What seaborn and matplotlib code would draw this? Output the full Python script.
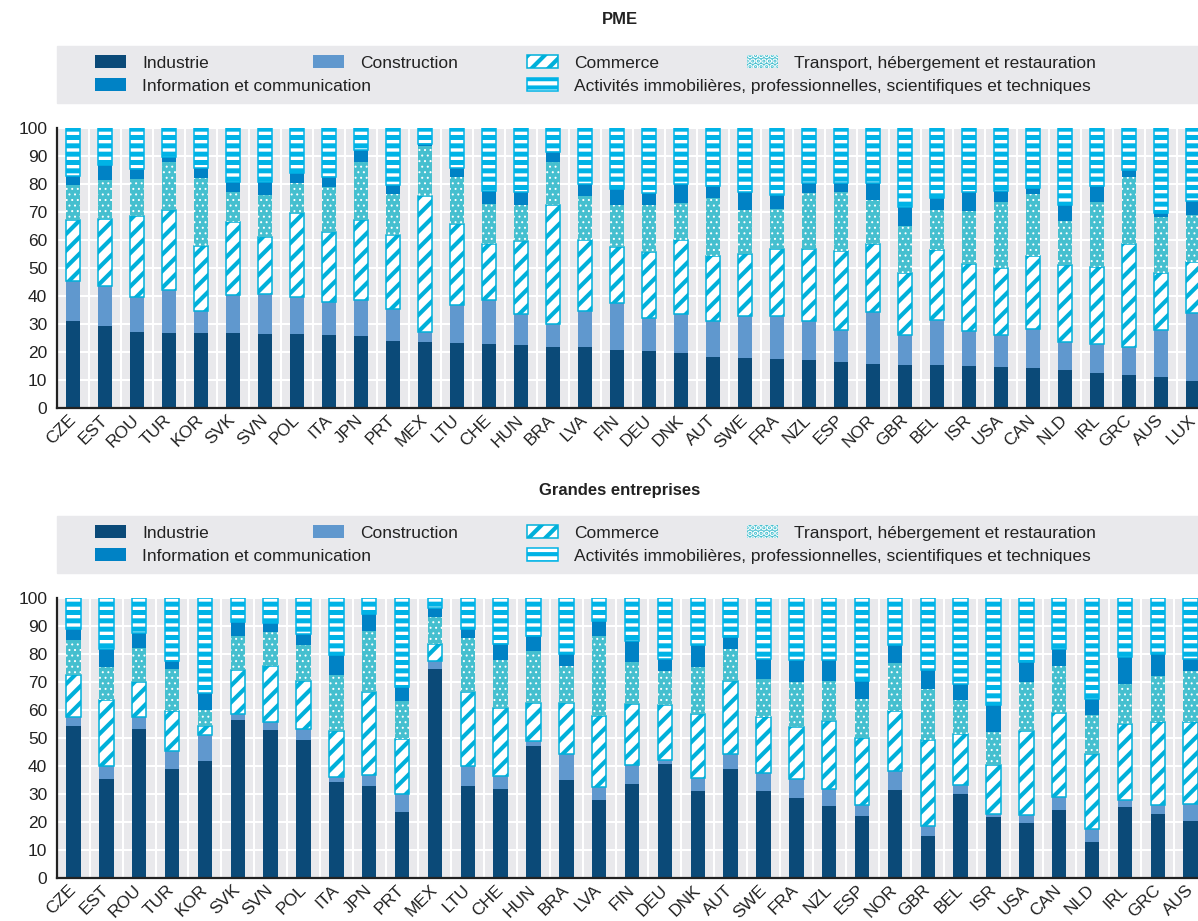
import numpy as np
import matplotlib
matplotlib.use("Agg")
import matplotlib.pyplot as plt
from matplotlib.patches import Patch, Rectangle
import seaborn as sns

# Pays, meme ordre dans les deux panneaux (LUX hors cadre en bas)
pays = ["CZE", "EST", "ROU", "TUR", "KOR", "SVK", "SVN", "POL", "ITA", "JPN", "PRT", "MEX",
        "LTU", "CHE", "HUN", "BRA", "LVA", "FIN", "DEU", "DNK", "AUT", "SWE", "FRA", "NZL",
        "ESP", "NOR", "GBR", "BEL", "ISR", "USA", "CAN", "NLD", "IRL", "GRC", "AUS", "LUX"]
pays_ge = pays[:35]

secteurs = ["Industrie", "Construction", "Commerce", "Transport, hébergement et restauration",
            "Information et communication",
            "Activités immobilières, professionnelles, scientifiques et techniques"]

# PME : part de chaque secteur (%)
pme_industrie = [31.0, 29.4, 27.0, 26.9, 26.9, 26.8, 26.5, 26.5, 26.0, 25.6, 23.8, 23.5, 23.3, 23.0, 22.6, 21.7, 21.7, 20.8,
                 20.2, 19.5, 18.1, 17.9, 17.5, 17.3, 16.4, 15.8, 15.5, 15.2, 15.1, 14.5, 14.3, 13.6, 12.4, 11.9, 11.1, 9.5]
pme_construction = [14.2, 14.1, 12.5, 15.1, 7.6, 13.7, 14.3, 13.0, 11.9, 12.9, 11.7, 3.5, 13.4, 15.7, 11.0, 8.4, 12.8, 16.7,
                    11.9, 14.1, 13.1, 15.1, 15.2, 13.7, 11.3, 18.4, 10.7, 16.1, 12.3, 11.5, 13.9, 9.9, 10.5, 9.9, 16.6, 24.4]
pme_commerce = [22.1, 24.1, 29.0, 28.6, 23.5, 25.9, 20.2, 30.0, 25.1, 28.8, 26.2, 48.6, 29.1, 19.9, 25.9, 42.5, 25.6, 19.9,
                23.6, 26.5, 23.0, 22.0, 24.1, 25.9, 28.3, 24.4, 21.9, 25.2, 24.1, 24.0, 26.0, 27.5, 27.5, 36.9, 20.5, 18.2]
pme_transport = [12.2, 13.9, 13.3, 17.4, 24.0, 10.7, 15.0, 11.0, 15.8, 20.7, 14.8, 17.9, 16.6, 14.3, 12.9, 15.4, 15.5, 15.2,
                 16.7, 13.1, 20.8, 15.6, 14.4, 20.0, 21.0, 15.6, 16.8, 14.1, 18.7, 23.6, 22.2, 15.9, 23.1, 23.7, 20.0, 16.9]
pme_info = [3.5, 5.2, 3.6, 1.6, 3.7, 3.5, 4.6, 3.5, 3.6, 4.0, 3.3, 0.8, 3.3, 4.7, 4.7, 3.4, 4.4, 5.7,
            4.4, 6.8, 4.2, 6.5, 4.8, 3.6, 3.4, 6.2, 6.8, 4.4, 6.9, 3.8, 2.2, 5.5, 5.7, 2.5, 1.4, 4.8]
pme_activites = [17.0, 13.3, 14.6, 10.4, 14.3, 19.4, 19.4, 16.0, 17.6, 8.0, 20.2, 5.7, 14.3, 22.4, 22.9, 8.6, 20.0, 21.7,
                 23.2, 20.0, 20.8, 22.9, 24.0, 19.5, 19.6, 19.6, 28.3, 25.0, 22.9, 22.6, 21.4, 27.6, 20.8, 15.1, 30.4, 26.2]

# Grandes entreprises (%)
ge_industrie = [54.2, 35.5, 53.3, 38.9, 41.9, 56.3, 53.0, 49.4, 34.2, 33.0, 23.6, 74.8, 32.7, 31.8, 47.3, 35.1, 28.0, 33.7,
                40.8, 31.2, 38.9, 31.2, 28.6, 25.8, 22.0, 31.5, 15.1, 30.0, 21.8, 19.6, 24.2, 12.7, 25.2, 23.0, 20.2]
ge_construction = [3.2, 4.4, 4.2, 6.3, 9.1, 2.3, 2.6, 3.8, 1.9, 3.9, 6.4, 2.8, 7.2, 4.5, 1.5, 9.2, 4.4, 6.8,
                   1.5, 4.5, 5.5, 6.3, 6.8, 6.1, 4.2, 6.8, 3.4, 3.1, 1.2, 2.8, 4.6, 4.9, 2.5, 3.2, 6.2]
ge_commerce = [15.0, 23.8, 12.4, 14.3, 3.2, 15.8, 20.0, 17.3, 16.3, 29.5, 19.6, 6.1, 26.4, 24.4, 13.7, 18.2, 25.3, 21.6,
               19.4, 22.9, 25.8, 19.9, 18.4, 24.1, 23.8, 21.2, 30.7, 18.3, 17.2, 30.0, 30.1, 26.7, 27.3, 29.5, 29.3]
ge_transport = [12.7, 11.5, 12.2, 15.3, 5.9, 11.9, 12.1, 12.8, 20.2, 21.9, 13.7, 9.5, 19.4, 17.0, 18.5, 13.3, 28.6, 14.9,
                12.1, 16.6, 11.7, 13.7, 16.2, 14.5, 14.0, 17.3, 18.4, 12.3, 11.8, 17.5, 16.9, 14.0, 14.4, 16.3, 18.3]
ge_info = [3.9, 6.6, 5.4, 2.8, 6.0, 5.1, 3.3, 4.0, 6.9, 6.0, 4.8, 3.2, 3.3, 5.9, 5.3, 4.2, 5.4, 7.5,
           4.5, 7.9, 4.2, 7.2, 7.7, 7.5, 6.5, 6.5, 6.6, 5.7, 9.7, 7.2, 6.0, 5.6, 9.5, 8.0, 4.2]
ge_activites = [11.0, 18.2, 12.5, 22.4, 33.9, 8.6, 9.0, 12.7, 20.5, 5.7, 31.9, 3.6, 11.0, 16.4, 13.7, 20.0, 8.3, 15.5,
                21.7, 16.9, 13.9, 21.7, 22.3, 22.0, 29.5, 16.7, 25.8, 30.6, 38.3, 22.9, 18.2, 36.1, 21.1, 20.0, 21.8]

# Style
sns.set_theme(style="white")
plt.rcParams["font.family"] = ["Liberation Sans", "DejaVu Sans"]
plt.rcParams["hatch.linewidth"] = 3.0

IND, CONS, INFO, TRANS = "#0B4A78", "#6098CE", "#0082C5", "#45BFCF"
COMM, ACT, FOND = "#00B0DA", "#00B3E6", "#E9E9EC"

styles = [
    dict(color=IND, edgecolor=IND, linewidth=0),
    dict(color=CONS, edgecolor=CONS, linewidth=0),
    dict(color="white", edgecolor=COMM, linewidth=1.1, hatch="//"),
    dict(color=TRANS, edgecolor="white", linewidth=0, hatch="..."),
    dict(color=INFO, edgecolor=INFO, linewidth=0),
    dict(color="white", edgecolor=ACT, linewidth=1.1, hatch="--"),
]
hatch_lw = [3.0, 3.0, 3.0, 0.7, 3.0, 3.6]

W, H = 1198, 921
fig = plt.figure(figsize=(W / 100, H / 100), dpi=100)

panneaux = [
    ("PME", pays, [pme_industrie, pme_construction, pme_commerce, pme_transport, pme_info, pme_activites],
     [57 / W, (H - 408) / H, 1152 / W, 280 / H], 0),
    ("Grandes entreprises", pays_ge, [ge_industrie, ge_construction, ge_commerce, ge_transport, ge_info, ge_activites],
     [57 / W, (H - 878) / H, 1183 / W, 280 / H], 470),
]

# positions des entrees de legende (pixels : bord gauche du symbole, centre vertical)
places = [(95, 63), (313, 63), (527, 63), (747, 63), (95, 86), (527, 86)]

for titre, liste_pays, series, pos, dy in panneaux:
    ax = fig.add_axes(pos)
    ax.set_facecolor(FOND)
    bas = np.zeros(len(liste_pays))
    for vals, st, hlw in zip(series, styles, hatch_lw):
        with plt.rc_context({"hatch.linewidth": hlw}):
            sns.barplot(x=liste_pays, y=vals, order=liste_pays, width=0.44, errorbar=None,
                        saturation=1, ax=ax, bottom=bas.copy(), **st)
        for p in ax.containers[-1]:
            if hasattr(p, "set_hatch_linewidth"):
                p.set_hatch_linewidth(hlw)
        bas += np.array(vals)

    ax.set_xlim(-0.5, 35.5)
    ax.set_ylim(0, 100)
    ax.set_yticks(range(0, 101, 10))
    ax.set_xlabel("")
    ax.set_ylabel("")
    ax.set_xticks(range(len(liste_pays)))
    ax.set_xticklabels(liste_pays, rotation=45, ha="right", va="center", rotation_mode="anchor")
    ax.set_xticks(np.arange(0.5, 35.5, 1), minor=True)
    ax.set_axisbelow(True)
    ax.yaxis.grid(True, color="white", linewidth=1.5)
    ax.xaxis.grid(False, which="major")
    ax.xaxis.grid(True, which="minor", color="white", linewidth=1.5)
    ax.tick_params(axis="x", which="major", length=0, pad=7, labelsize=12.5, labelcolor="#222222")
    ax.tick_params(axis="x", which="minor", direction="in", length=4, width=1.2, color="#222222")
    ax.tick_params(axis="y", direction="in", length=4, width=1.2, pad=7, labelsize=12.5,
                   color="#222222", labelcolor="#222222")
    sns.despine(ax=ax)
    for s in ["left", "bottom"]:
        ax.spines[s].set_color("#222222")
        ax.spines[s].set_linewidth(1.6)

    # titre et bandeau de legende
    fig.text(620 / W, 1 - (20 + dy) / H, titre, ha="center", va="center",
             fontsize=12, fontweight="bold", color="#222222")
    fig.add_artist(Rectangle((57 / W, 1 - (103 + dy) / H), (W - 57) / W, 57 / H,
                             transform=fig.transFigure, color=FOND, zorder=0))
    for lab, st, hlw, (px, py) in zip(secteurs, styles, hatch_lw, places):
        with plt.rc_context({"hatch.linewidth": hlw}):
            h = Patch(facecolor=st["color"], edgecolor=st["edgecolor"], linewidth=st["linewidth"],
                      hatch=st.get("hatch"))
        if hasattr(h, "set_hatch_linewidth"):
            h.set_hatch_linewidth(hlw)
        fig.legend(handles=[h], labels=[lab], loc="center left",
                   bbox_to_anchor=(px / W, 1 - (py + dy) / H), frameon=False, fontsize=12.5,
                   handlelength=1.78, handleheight=0.8, handletextpad=0.92,
                   borderpad=0, borderaxespad=0, labelcolor="#222222")

fig.savefig("out.png", dpi=100)
